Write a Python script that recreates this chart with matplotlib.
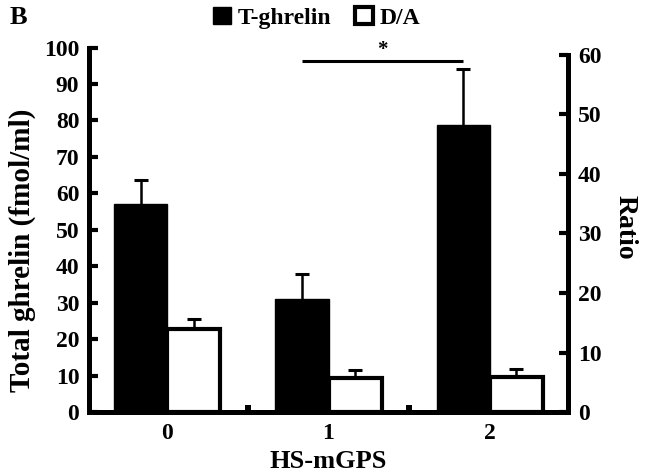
"""Recreate panel B: total ghrelin bars (left axis) and D/A ratio bars (right axis)."""

import matplotlib

matplotlib.use("Agg")
import matplotlib.pyplot as plt

# Data
GROUPS = ["0", "1", "2"]
T_GHRELIN = [57.1, 31.0, 78.8]
T_GHRELIN_ERR = [6.6, 6.9, 15.4]
DA_RATIO = [13.9, 5.7, 5.9]
DA_RATIO_ERR = [1.7, 1.3, 1.3]
LEFT_TICKS = [0, 10, 20, 30, 40, 50, 60, 70, 80, 90, 100]
RIGHT_TICKS = [0, 10, 20, 30, 40, 50, 60]
SIG_PAIR = (1, 2)
SIG_Y = 96.4

BAR_W = 0.33
SPINE_W = 3.6

plt.rcParams["font.family"] = ["Liberation Serif", "DejaVu Serif"]
plt.rcParams["font.weight"] = "bold"
plt.rcParams["axes.labelweight"] = "bold"

fig = plt.figure(figsize=(6.46, 4.75), dpi=100)
ax = fig.add_axes([0.1378, 0.1326, 0.7415, 0.7674])
ax2 = ax.twinx()

x = list(range(len(GROUPS)))
x_black = [i - BAR_W / 2 for i in x]
x_white = [i + BAR_W / 2 for i in x]


def upper_errorbar(axis, xs, ys, errs):
    """One-sided (upward) error bars, without the cap at the bar top."""
    _, caps, _ = axis.errorbar(xs, ys, yerr=[[0] * len(xs), errs], fmt="none",
                               ecolor="black", elinewidth=1.8, capsize=4.7,
                               capthick=2.2, zorder=1)
    caps[0].set_visible(False)


b1 = ax.bar(x_black, T_GHRELIN, width=BAR_W, color="black", edgecolor="black",
            linewidth=1.0, label="T-ghrelin", zorder=2)
upper_errorbar(ax, x_black, T_GHRELIN, T_GHRELIN_ERR)

b2 = ax2.bar(x_white, DA_RATIO, width=BAR_W, color="white", edgecolor="black",
             linewidth=3.0, label="D/A", zorder=2)
upper_errorbar(ax2, x_white, DA_RATIO, DA_RATIO_ERR)

# significance bar between the T-ghrelin bars of groups 1 and 2
sx = [x_black[SIG_PAIR[0]], x_black[SIG_PAIR[1]]]
ax.plot(sx, [SIG_Y, SIG_Y], color="black", linewidth=2.2, solid_capstyle="butt")
ax.text(sum(sx) / 2, SIG_Y + 3.0, "*", ha="center", va="center", fontsize=15)

ax.set_xlim(-0.485, 2.485)
ax.set_ylim(0, 100)
ax2.set_ylim(0, 61.25)

ax.set_xticks(x)
ax.set_xticklabels(GROUPS)
ax.set_xticks([0.5, 1.5], minor=True)
ax.tick_params(axis="x", which="major", length=0, pad=8, labelsize=17)
ax.tick_params(axis="x", which="minor", direction="in", length=5, width=4.3)

ax.set_yticks(LEFT_TICKS)
ax.tick_params(axis="y", direction="in", length=6.5, width=3, pad=7, labelsize=17)
ax2.set_yticks(RIGHT_TICKS)
ax2.tick_params(axis="y", direction="in", length=6.5, width=3, pad=7, labelsize=17)

for a in (ax, ax2):
    a.spines["top"].set_visible(False)
    for side in ("left", "right", "bottom"):
        a.spines[side].set_linewidth(SPINE_W)
ax.spines["right"].set_visible(False)
ax2.spines["left"].set_visible(False)
ax2.spines["bottom"].set_visible(False)
ax.spines["left"].set_bounds(0, 100)
ax2.spines["right"].set_bounds(0, 60)

ax.set_xlabel("HS-mGPS", fontsize=19, fontweight="bold")
ax.xaxis.set_label_coords(0.5, -0.104)
ax.set_ylabel("Total ghrelin (fmol/ml)", fontsize=21, fontweight="bold")
ax.yaxis.set_label_coords(-0.11, 0.444)
ax2.set_ylabel("Ratio", fontsize=20, fontweight="bold", rotation=-90, va="center")
ax2.yaxis.set_label_coords(1.119, 0.508)

fig.legend(handles=[b1, b2], labels=["T-ghrelin", "D/A"], loc="center",
           bbox_to_anchor=(0.49, 0.963), ncol=2, frameon=False, fontsize=17,
           handlelength=0.75, handleheight=0.75, handletextpad=0.3,
           columnspacing=1.0)
fig.text(0.015, 0.963, "B", fontsize=19, va="center", ha="left")

fig.savefig("out.png", dpi=100, facecolor="white")
